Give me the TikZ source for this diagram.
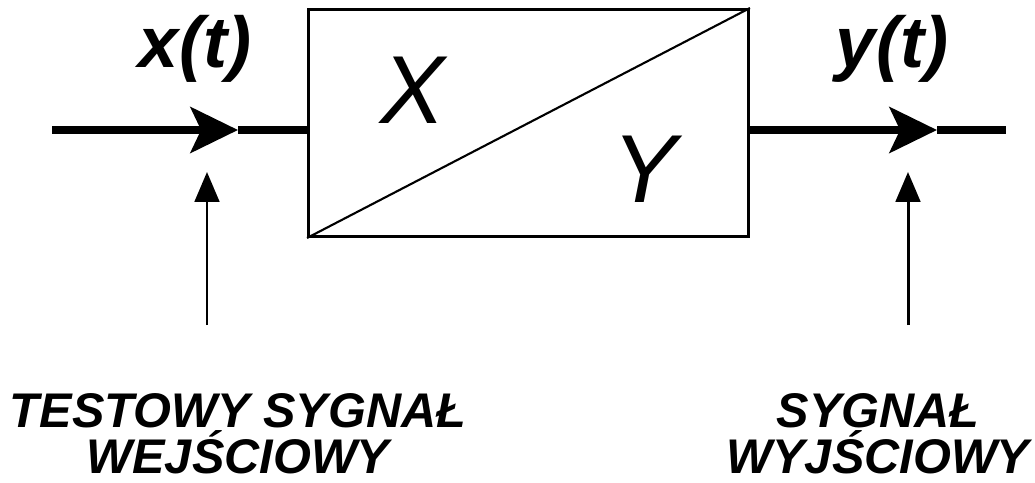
\documentclass[tikz,border=0pt]{standalone}
\usepackage{fontspec}
\setmainfont{Liberation Sans}
\usetikzlibrary{arrows.meta}

\tikzset{
  gruba/.style={line width=4.5pt},
  cienka/.style={line width=1.7pt},
  grotgruby/.style={-{Stealth[length=27pt,width=26pt,inset=6pt]}},
  grotcienki/.style={-{Triangle[length=17pt,width=14pt]}},
  sygnal/.style={font=\fontsize{41}{45}\selectfont\bfseries\itshape},
  litera/.style={font=\fontsize{55}{60}\selectfont\itshape},
  opis/.style={align=center,font=\fontsize{27.7}{26}\selectfont\bfseries\itshape}
}

\begin{document}
\begin{tikzpicture}[x=0.02cm,y=-0.02cm]
	\useasboundingbox (0,0) rectangle (1035,483);

	% blok X/Y
	\node[draw,line width=1.7pt,minimum width=8.8cm,minimum height=4.54cm,inner sep=0pt] (blok) at (528.5,123) {};
	\draw[line width=1.2pt] (blok.south west) -- (blok.north east);
	\node[litera,anchor=base] (lx) at (413,124) {X};
	\node[litera,anchor=base] (ly) at (645,202) {Y};

	% wejscie
	\coordinate (pocz) at (52,130);
	\coordinate (grotA) at (238,130);
	\draw[gruba,grotgruby] (pocz) -- (grotA);
	\draw[gruba] (grotA) -- (blok.west |- pocz);
	\node[sygnal,anchor=base] (xt) at (195,68) {x(t)};

	% wyjscie
	\coordinate (kon) at (1006,130);
	\coordinate (grotB) at (937,130);
	\draw[gruba,grotgruby] (blok.east |- kon) -- (grotB);
	\draw[gruba] (grotB) -- (kon);
	\node[sygnal,anchor=base] (yt) at (892,68) {y(t)};

	% strzalki od opisow
	\coordinate (dolA) at (207,325);
	\coordinate (goraA) at (207,172);
	\draw[cienka,grotcienki] (dolA) -- (goraA);
	\coordinate (dolB) at (908,325);
	\coordinate (goraB) at (908,172);
	\draw[cienka,grotcienki] (dolB) -- (goraB);

	\node[opis,anchor=base] (opisA) at (238,473) {TESTOWY SYGNAŁ\\WEJŚCIOWY};
	\node[opis,anchor=base] (opisB) at (878,473) {SYGNAŁ\\WYJŚCIOWY};
\end{tikzpicture}
\end{document}
